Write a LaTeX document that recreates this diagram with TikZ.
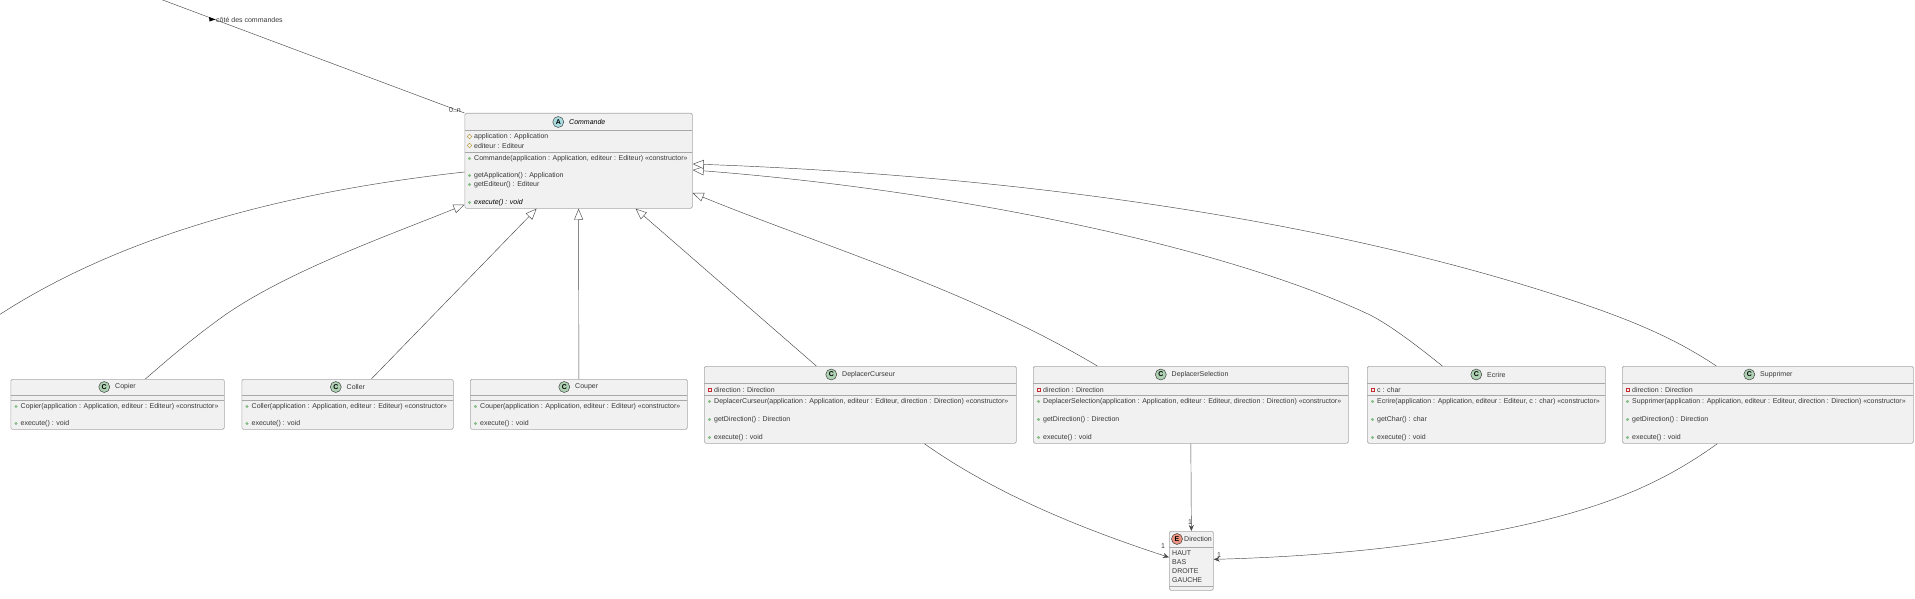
\documentclass[tikz,border=0pt]{standalone}
\usepackage{fontspec}
\setmainfont{Liberation Sans}
\usetikzlibrary{arrows.meta,positioning,calc,shapes.geometric}
\definecolor{boxbg}{HTML}{F1F1F1}
\definecolor{boxline}{HTML}{A8A8A8}
\definecolor{textgrey}{HTML}{383838}
\definecolor{linegrey}{HTML}{484848}
\definecolor{circlec}{HTML}{ADD1B2}
\definecolor{circlea}{HTML}{A9DCDF}
\definecolor{circlee}{HTML}{EB937F}
\definecolor{pubgreen}{HTML}{84BE84}
\definecolor{privred}{HTML}{C82930}
\definecolor{protgold}{HTML}{B38D22}
\tikzset{
  classbox/.style={draw=boxline,fill=boxbg,line width=.7pt,rounded corners=1.5pt,inner sep=0pt,anchor=north west},
  headtext/.style={font=\fontsize{7}{8}\selectfont,text=textgrey,inner sep=0pt,anchor=west},
  spot/.style={circle,draw=textgrey,line width=.45pt,minimum size=11pt,inner sep=0pt,font=\fontsize{7}{8}\selectfont\bfseries},
  membertext/.style={font=\fontsize{7}{8}\selectfont,text=textgrey,inner sep=0pt,anchor=west},
  memberdot/.style={circle,fill=pubgreen,minimum size=3.2pt,inner sep=0pt},
  privmark/.style={rectangle,draw=privred,fill=boxbg,line width=.45pt,minimum size=3.4pt,inner sep=0pt},
  protmark/.style={diamond,draw=protgold,fill=boxbg,line width=.45pt,minimum size=5pt,inner sep=0pt},
  sepline/.style={draw=boxline,line width=.7pt},
  extendline/.style={draw=linegrey,line width=.45pt,-{Triangle[open,fill=white,length=11pt,width=9pt]}},
  linkline/.style={draw=linegrey,line width=.45pt,-{Stealth[length=6pt,width=5pt]}},
  plainline/.style={draw=linegrey,line width=.45pt},
  multtext/.style={font=\fontsize{7}{8}\selectfont,text=textgrey,inner sep=0pt}
}
\begin{document}
\begin{tikzpicture}[x=1pt,y=-1pt]
  \useasboundingbox (0,0) rectangle (1915,599);

  % abstract class
  \node[classbox,minimum width=227.5pt,minimum height=95pt] (commande) at (464.5,113) {};
  \node[headtext,font=\fontsize{7}{8}\selectfont\itshape,text=black] (commandetitle) at (569,122) {Commande};
  \node[spot,fill=circlea,left=5pt of commandetitle] (commandespot) {A};
  \draw[sepline] (464.5,130) -- (692,130) (464.5,152) -- (692,152);
  \node[protmark] (appmark) at (469.5,136.5) {};
  \node[membertext] (appfield) at (474,136.5) {application : Application};
  \node[protmark] (editmark) at (469.5,145.5) {};
  \node[membertext] (editfield) at (474,145.5) {editeur : Editeur};
  \node[memberdot] (ctordot) at (469.5,158.5) {};
  \node[membertext] (ctor) at (474,158.5) {Commande(application : Application, editeur : Editeur) «constructor»};
  \node[memberdot] (getappdot) at (469.5,175.5) {};
  \node[membertext] (getapp) at (474,175.5) {getApplication() : Application};
  \node[memberdot] (geteditdot) at (469.5,184.5) {};
  \node[membertext] (getedit) at (474,184.5) {getEditeur() : Editeur};
  \node[memberdot] (execdot) at (469.5,202.5) {};
  \node[membertext,font=\fontsize{7}{8}\selectfont\itshape,text=black] (exec) at (474,202.5) {execute() : void};

  % classes without a field
  \foreach \cname/\cleft/\cright/\ctitlex in {Copier/10.5/224/115,Coller/241.5/453/346.5,Couper/470/687/575}{
    \pgfmathsetmacro{\cwidth}{\cright-\cleft}
    \node[classbox,minimum width=\cwidth pt,minimum height=50pt] (\cname) at (\cleft,379) {};
    \node[headtext] (\cname title) at (\ctitlex,387) {\cname};
    \node[spot,fill=circlec,left=5pt of \cname title] (\cname spot) {C};
    \draw[sepline] (\cleft,395) -- (\cright,395) (\cleft,400) -- (\cright,400);
    \node[memberdot] (\cname ctordot) at (\cleft+5.5,406.5) {};
    \node[membertext] (\cname ctor) at (\cleft+10,406.5) {\cname(application : Application, editeur : Editeur) «constructor»};
    \node[memberdot] (\cname execdot) at (\cleft+5.5,423.5) {};
    \node[membertext] (\cname exec) at (\cleft+10,423.5) {execute() : void};
  }

  % classes with a field
  \foreach \cname/\cleft/\cright/\ctitlex/\cfield/\cget in {
    DeplacerCurseur/704/1016/842/direction : Direction/getDirection() : Direction,
    DeplacerSelection/1033/1348/1171.5/direction : Direction/getDirection() : Direction,
    Ecrire/1367/1605/1487/c : char/getChar() : char,
    Supprimer/1622/1913/1760/direction : Direction/getDirection() : Direction}{
    \pgfmathsetmacro{\cwidth}{\cright-\cleft}
    \node[classbox,minimum width=\cwidth pt,minimum height=77pt] (\cname) at (\cleft,366) {};
    \node[headtext] (\cname title) at (\ctitlex,374.5) {\cname};
    \node[spot,fill=circlec,left=5pt of \cname title] (\cname spot) {C};
    \draw[sepline] (\cleft,383) -- (\cright,383) (\cleft,395) -- (\cright,395);
    \node[privmark] (\cname mark) at (\cleft+5.5,389.5) {};
    \node[membertext] (\cname field) at (\cleft+10,389.5) {\cfield};
    \node[memberdot] (\cname ctordot) at (\cleft+5.5,401.5) {};
    \node[membertext] (\cname ctor) at (\cleft+10,401.5) {\cname(application : Application, editeur : Editeur, \cfield) «constructor»};
    \node[memberdot] (\cname getdot) at (\cleft+5.5,419.5) {};
    \node[membertext] (\cname get) at (\cleft+10,419.5) {\cget};
    \node[memberdot] (\cname execdot) at (\cleft+5.5,437.5) {};
    \node[membertext] (\cname exec) at (\cleft+10,437.5) {execute() : void};
  }

  % enum
  \node[classbox,minimum width=44pt,minimum height=59pt] (direction) at (1169,531) {};
  \node[spot,fill=circlee] (directionspot) at (1177,539) {E};
  \node[headtext] (directiontitle) at (1184,539) {Direction};
  \draw[sepline] (1169,547) -- (1213,547) (1169,586) -- (1213,586);
  \foreach \litname/\lity in {HAUT/553,BAS/562,DROITE/571,GAUCHE/580}{
    \node[membertext] (\litname) at (1172,\lity) {\litname};
  }

  % connectors
  \coordinate (topend) at (160,-1);
  \coordinate (leftend) at (-1,315);
  \draw[plainline] (topend) -- (commande.north west);
  \fill[black] (209,17) -- (215.5,19.5) -- (209.5,21.5) -- cycle;
  \node[multtext,anchor=west] (rolelabel) at (216,20) {côté des commandes};
  \node[multtext] (rolemult) at (455,110) {0..n};
  \draw[plainline] (leftend) .. controls (130,230) and (300,190) .. ($(commande.north west)+(0,59)$);
  \draw[extendline] ($(Copier.north)+(27.75,0)$) .. controls (165,362) and (190,340) .. (225,315) .. controls (290,270) and (390,235) .. ($(commande.south west)+(0,-4)$);
  \draw[extendline] ($(Coller.north)+(23.75,0)$) -- ($(commande.south)+(-42,0)$);
  \draw[extendline] (Couper.north) -- (commande.south);
  \draw[extendline] ($(DeplacerCurseur.north)+(-44,0)$) -- ($(commande.south)+(57,0)$);
  \draw[extendline] ($(DeplacerSelection.north)+(-93.5,0)$) .. controls (970,290) and (820,245) .. ($(commande.north east)+(0,80)$);
  \draw[extendline] ($(Ecrire.north)+(-44,0)$) .. controls (1410,340) and (1385,322) .. (1368,314) .. controls (1220,245) and (950,190) .. ($(commande.north east)+(0,57)$);
  \draw[extendline] ($(Supprimer.north)+(-51.5,0)$) .. controls (1670,335) and (1620,315) .. (1540,290) .. controls (1300,215) and (1000,175) .. ($(commande.north east)+(0,51)$);
  \draw[linkline] ($(DeplacerCurseur.south)+(64,0)$) .. controls (990,490) and (1070,525) .. ($(direction.west)+(0,-3.5)$);
  \draw[linkline] (DeplacerSelection.south) -- (direction.north);
  \draw[linkline] ($(Supprimer.south)+(-50.5,0)$) .. controls (1660,485) and (1600,510) .. (1500,530) .. controls (1400,550) and (1300,557) .. ($(direction.east)+(0,-1.5)$);
  \node[multtext] (multcurseur) at (1163,546) {1};
  \node[multtext] (multselection) at (1190,522) {1};
  \node[multtext] (multsupprimer) at (1219,555) {1};
\end{tikzpicture}
\end{document}
